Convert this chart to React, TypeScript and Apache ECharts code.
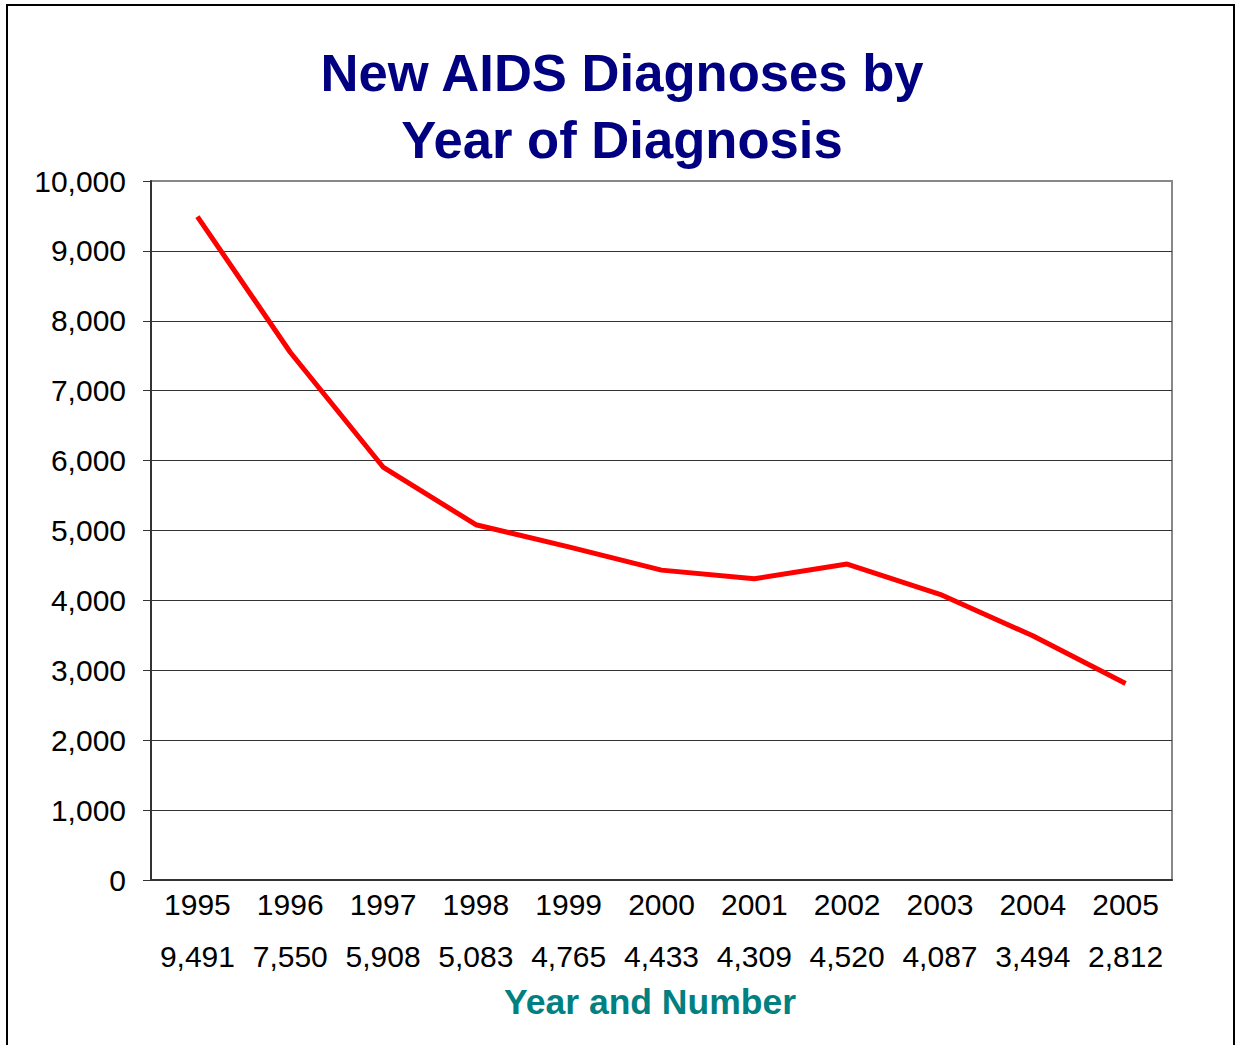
import React, { useEffect, useRef } from "react";
import * as echarts from "echarts";

const years = ["1995", "1996", "1997", "1998", "1999", "2000", "2001", "2002", "2003", "2004", "2005"];
const diagnoses = [9491, 7550, 5908, 5083, 4765, 4433, 4309, 4520, 4087, 3494, 2812];
const titleLines = ["New AIDS Diagnoses by", "Year of Diagnosis"];
const xAxisTitle = "Year and Number";

const fmt = (v: number) => v.toLocaleString("en-US");

export default function App() {
  const ref = useRef<HTMLDivElement>(null);
  useEffect(() => {
    if (!ref.current) return;
    const chart = echarts.init(ref.current, null, { renderer: "svg" });
    const font = "Liberation Sans, Arial, sans-serif";
    chart.setOption({
      animation: false,
      backgroundColor: "#ffffff",
      title: {
        text: titleLines.join("\n"),
        left: 617,
        textAlign: "center",
        top: 34,
        textStyle: {
          fontFamily: font,
          fontSize: 52.6,
          fontWeight: "bold",
          color: "#000080",
          lineHeight: 67,
        },
      },
      grid: {
        left: 151,
        top: 181,
        right: 1235 - 1172,
        bottom: 1045 - 880,
        show: true,
        borderColor: "#888888",
        borderWidth: 2,
      },
      xAxis: {
        type: "category",
        data: years,
        boundaryGap: true,
        axisLine: { show: true, lineStyle: { color: "#333333", width: 2 } },
        axisTick: { show: false },
        axisLabel: {
          interval: 0,
          margin: -2,
          fontFamily: font,
          fontSize: 30,
          color: "#000000",
          lineHeight: 52,
          formatter: (v: string, i: number) => `${v}\n${fmt(diagnoses[i])}`,
        },
      },
      yAxis: {
        type: "value",
        min: 0,
        max: 10000,
        interval: 1000,
        axisLine: { show: true, lineStyle: { color: "#333333", width: 2 } },
        axisTick: { show: true, length: 8, lineStyle: { color: "#333333", width: 1 } },
        splitLine: { show: true, showMaxLine: false, lineStyle: { color: "#333333", width: 1 } },
        axisLabel: {
          margin: 25,
          fontFamily: font,
          fontSize: 30,
          color: "#000000",
          formatter: (v: number) => fmt(v),
        },
      },
      series: [
        {
          type: "line",
          data: diagnoses,
          showSymbol: false,
          symbol: "none",
          lineStyle: { color: "#ff0000", width: 5 },
          z: 5,
        },
      ],
      graphic: [
        {
          type: "rect",
          shape: { x: 7, y: 5, width: 1227, height: 1100 },
          style: { fill: "none", stroke: "#000000", lineWidth: 2 },
          silent: true,
        },
        {
          type: "text",
          x: 650,
          y: 1002,
          style: {
            text: xAxisTitle,
            fontFamily: font,
            fontSize: 35.5,
            fontWeight: "bold",
            fill: "#008080",
            align: "center",
            verticalAlign: "middle",
          },
        },
      ],
    });
    return () => chart.dispose();
  }, []);
  return (
    <div
      ref={ref}
      style={{ position: "absolute", left: 0, top: 0, width: 1235, height: 1045 }}
    />
  );
}
